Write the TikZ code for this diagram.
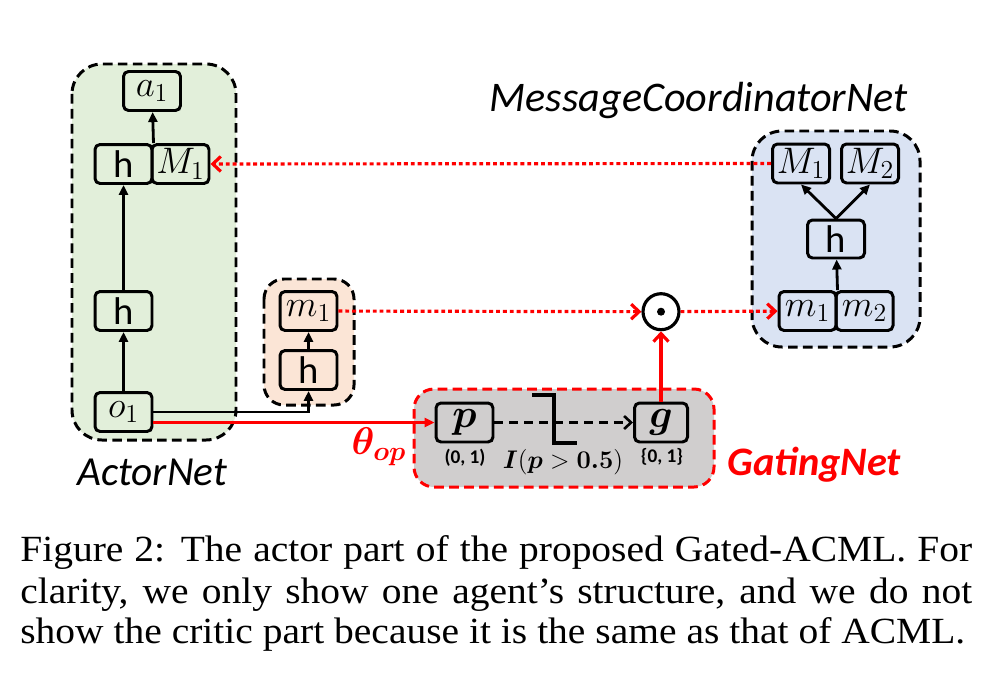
\RequirePackage{fix-cm}
\documentclass[tikz,border=0pt]{standalone}
\usepackage{amsmath}
\usepackage{bm}
\usepackage{fontspec}
\setsansfont{Carlito}
\newfontfamily\capfont[FakeStretch=1.07]{Liberation Serif}
\usetikzlibrary{arrows.meta, positioning}
\definecolor{actorgreen}{HTML}{E2EFDA}
\definecolor{msgorange}{HTML}{FBE5D6}
\definecolor{coordblue}{HTML}{DAE3F3}
\definecolor{gategray}{HTML}{D0CECE}
\tikzstyle{every picture} = [x=0.02cm, y=-0.02cm]
\tikzstyle{unit} = [draw, rounded corners=0.1cm, line width=1.7pt, minimum width=1.14cm, minimum height=0.78cm, inner sep=0pt, font=\sffamily\fontsize{22}{24}\selectfont]
\tikzstyle{mathunit} = [unit, font=\fontsize{21}{23}\selectfont]
\tikzstyle{group} = [line width=1.7pt, dash pattern=on 5.5pt off 3pt]
\tikzstyle{flow} = [line width=1.6pt, -{Triangle[length=0.2cm, width=0.18cm]}]
\tikzstyle{dashflow} = [line width=1.5pt, dash pattern=on 5pt off 3.5pt, -{Straight Barb[length=0.14cm, width=0.26cm]}]
\tikzstyle{reddot} = [red, line width=1.8pt, dash pattern=on 2.2pt off 1.7pt, -{Straight Barb[length=0.16cm, width=0.3cm]}]
\tikzstyle{redline} = [red, line width=1.8pt, -{Straight Barb[length=0.16cm, width=0.3cm]}]
\tikzstyle{caption line} = [anchor=base west, inner sep=0pt, font=\capfont\fontsize{21}{23.3}\selectfont]

\begin{document}
\begin{tikzpicture}
            \useasboundingbox (0,0) rectangle (982,676);
            % groups
            \draw[group, fill=actorgreen, rounded corners=0.6cm] (72,64) rectangle (236,440);
            \draw[group, fill=msgorange, rounded corners=0.4cm] (264,279) rectangle (354,405);
            \draw[group, fill=coordblue, rounded corners=0.6cm] (752,131) rectangle (920,347);
            \draw[group, fill=gategray, draw=red, rounded corners=0.4cm] (414,389) rectangle (714,487);

            % actor net
            \node (actor a1) at (152,91) [mathunit] {$a_1$};
            \node (actor h2) at (123.5,164) [unit] {h};
            \node (actor M1) at (180.5,164) [mathunit] {$M_1$};
            \node (actor h1) at (123.5,311) [unit] {h};
            \node (actor o1) at (123.5,412) [mathunit] {$o_1$};

            % message net
            \node (msg m1) at (308.5,311) [mathunit] {$m_1$};
            \node (msg h) at (308.5,370) [unit] {h};

            % message coordinator net
            \node (coord M1) at (801,163.5) [mathunit] {$M_1$};
            \node (coord M2) at (870,163.5) [mathunit] {$M_2$};
            \node (coord h) at (836,239) [unit, minimum height=0.76cm] {h};
            \node (coord m1) at (807.5,311) [mathunit] {$m_1$};
            \node (coord m2) at (864.5,311) [mathunit] {$m_2$};

            % gating net
            \node (gate p) at (464.5,422.5) [unit, font=\fontsize{23}{25}\selectfont] {$\bm{p}$};
            \node (gate g) at (661,422.5) [unit, minimum width=1.06cm, font=\fontsize{23}{25}\selectfont] {$\bm{g}$};
            \node (p range) at (465,458) [font=\sffamily\bfseries\fontsize{11}{13}\selectfont] {(0, 1)};
            \node (g range) at (662,457) [font=\sffamily\bfseries\fontsize{11}{13}\selectfont] {\{0, 1\}};
            \node (indicator) at (563,462) [font=\fontsize{14.5}{16}\selectfont] {$\bm{I}(\bm{p}>\bm{0.5})$};
            \node (odot) at (661,311.7) [circle, draw, line width=1.8pt, minimum size=0.72cm, inner sep=0pt] {};
            \fill (odot.center) circle[radius=0.08cm];
            \node (theta) at (379,447) [text=red, font=\fontsize{22}{24}\selectfont] {$\bm{\theta_{op}}$};

            \path   (actor o1) edge[flow] (actor h1)
                    (actor h1) edge[flow] (actor h2)
                    (actor h2.north east) edge[flow] (actor a1)
                    (msg h) edge[flow] (msg m1)
                    (coord m1.north east) edge[flow] (coord h)
                    (coord h.north) edge[flow] (coord M1.south)
                    (coord h.north) edge[flow] (coord M2.south)
                    (gate p) edge[dashflow] (gate g)
                    (gate g) edge[redline] (odot)
                    (msg m1) edge[reddot] (odot)
                    (odot) edge[reddot] (coord m1)
                    (coord M1) edge[reddot] (actor M1);
            \draw[flow] (actor o1.east) -| (msg h.south);
            \draw[red, line width=1.8pt, -{Triangle[length=0.2cm, width=0.18cm]}] (actor o1.east |- gate p.west) -- (gate p.west);
            \draw[line width=2.2pt] (532,395) -- (554,395) -- (554,443) -- (577,443);

            % labels
            \node (actor label) at (77,485) [anchor=base west, inner sep=0pt, font=\sffamily\itshape\fontsize{23.5}{26}\selectfont] {ActorNet};
            \node (coord label) at (908,111) [anchor=base east, inner sep=0pt, font=\sffamily\itshape\fontsize{24}{26}\selectfont] {MessageCoordinatorNet};
            \node (gate label) at (727,475) [anchor=base west, inner sep=0pt, text=red, font=\sffamily\bfseries\itshape\fontsize{23}{25}\selectfont] {GatingNet};

            % caption
            \node (caption 1) at (20,561.7) [caption line] {\makebox[19.04cm][s]{Figure 2: The actor part of the proposed Gated-ACML. For}};
            \node (caption 2) at (20,603) [caption line] {\makebox[19.04cm][s]{clarity, we only show one agent’s structure, and we do not}};
            \node (caption 3) at (20,643) [caption line] {\makebox[18.9cm][s]{show the critic part because it is the same as that of ACML.}};
\end{tikzpicture}
\end{document}
